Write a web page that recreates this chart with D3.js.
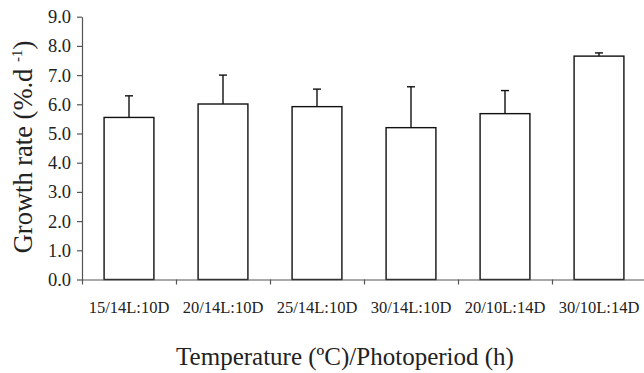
<!DOCTYPE html>
<meta charset="utf-8">
<style>
  body { margin: 0; background: #fff; }
  svg text { font-family: "Liberation Serif", "Times New Roman", serif; fill: #222; }
</style>
<body>
<div id="chart"></div>
<script src="https://cdn.jsdelivr.net/npm/d3@7"></script>
<script>
 var categories = ["15/14L:10D", "20/14L:10D", "25/14L:10D", "30/14L:10D", "20/10L:14D", "30/10L:14D"];
 var growth = [5.55, 6.01, 5.92, 5.2, 5.68, 7.65];
 var errors = [0.74, 0.99, 0.6, 1.4, 0.79, 0.11];
 var yTicks = [0, 1, 2, 3, 4, 5, 6, 7, 8, 9];

 var width = 644, height = 373;
 var plotLeft = 82, plotRight = 646, plotTop = 16.7, plotBottom = 279.5;

 var svg = d3.select('#chart').append('svg')
             .attr('width', width)
             .attr('height', height);

 var x = d3.scaleBand()
           .domain(categories)
           .range([plotLeft, plotRight])
           .paddingInner(0.47)
           .paddingOuter(0.235);

 // boundaries between categories, for the tick marks
 var xEdge = d3.scaleLinear()
               .domain([0, categories.length])
               .range([plotLeft, plotRight]);

 var y = d3.scaleLinear()
           .domain([0, 9])
           .range([plotBottom, plotTop]);

 // bars
 svg.append('g').selectAll('rect')
    .data(growth)
    .enter().append('rect')
    .attr('x', (d, i) => x(categories[i]))
    .attr('y', d => y(d))
    .attr('width', x.bandwidth())
    .attr('height', d => y(0) - y(d))
    .attr('fill', '#fff')
    .attr('stroke', '#111')
    .attr('stroke-width', 1.4);

 // error bars (upper only)
 var errG = svg.append('g').attr('stroke', '#111').attr('stroke-width', 1.4);
 growth.forEach(function(d, i) {
     var cx = x(categories[i]) + x.bandwidth() / 2;
     errG.append('line')
         .attr('x1', cx).attr('x2', cx)
         .attr('y1', y(d)).attr('y2', y(d + errors[i]));
     errG.append('line')
         .attr('x1', cx - 4).attr('x2', cx + 4)
         .attr('y1', y(d + errors[i])).attr('y2', y(d + errors[i]));
 });

 // y axis
 var yAxis = svg.append('g')
                .attr('transform', 'translate(' + plotLeft + ',0)')
                .call(d3.axisLeft(y).tickValues(yTicks).tickFormat(d3.format('.1f'))
                        .tickSize(5).tickSizeOuter(0).tickPadding(6));
 yAxis.selectAll('path, line').attr('stroke', '#555').attr('stroke-width', 1.2);
 yAxis.selectAll('text').attr('font-size', 18.5).attr('font-family', '"Liberation Serif", serif').attr('fill', '#222');

 // x axis
 var xAxis = svg.append('g')
                .attr('transform', 'translate(0,' + plotBottom + ')')
                .call(d3.axisBottom(xEdge).tickValues(d3.range(categories.length + 1))
                        .tickFormat('').tickSize(5).tickSizeOuter(0));
 xAxis.selectAll('path, line').attr('stroke', '#555').attr('stroke-width', 1.2);

 svg.append('g').selectAll('text')
    .data(categories)
    .enter().append('text')
    .attr('x', d => x(d) + x.bandwidth() / 2)
    .attr('y', 313)
    .attr('text-anchor', 'middle')
    .attr('font-size', 16.5)
    .text(d => d);

 // axis titles
 svg.append('text')
    .attr('x', 345)
    .attr('y', 365)
    .attr('text-anchor', 'middle')
    .attr('font-size', 25)
    .text('Temperature (ºC)/Photoperiod (h)');

 var yTitle = svg.append('text')
    .attr('transform', 'translate(32,147) rotate(-90)')
    .attr('text-anchor', 'middle')
    .attr('font-size', 26.5);
 yTitle.append('tspan').text('Growth rate (%.d ');
 yTitle.append('tspan').attr('font-size', 15).attr('dy', -10).text('-1');
 yTitle.append('tspan').attr('dy', 10).text(')');
</script>
